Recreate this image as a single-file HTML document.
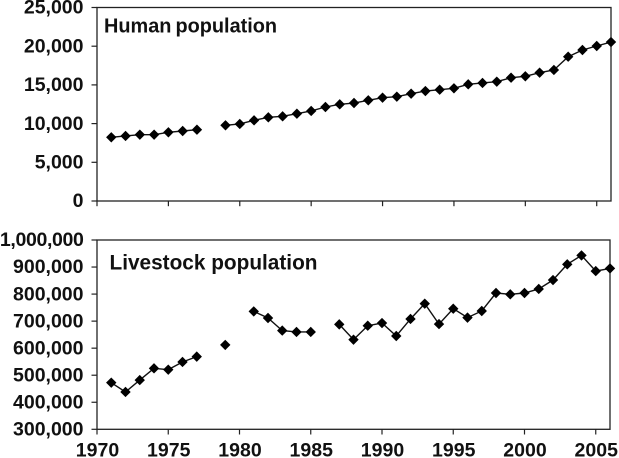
<!DOCTYPE html>
<html lang="en">
<head>
<meta charset="utf-8">
<title>Human and livestock population</title>
<style>
  html, body { margin: 0; padding: 0; background: #fff; }
  #chart { display: block; width: 619px; height: 458px; filter: blur(0.35px); }
  text { font-family: "Liberation Sans", Arial, sans-serif; font-weight: bold; fill: #111; }
</style>
</head>
<body>
<svg id="chart" xmlns="http://www.w3.org/2000/svg" width="619" height="458" viewBox="0 0 619 458">
  <g id="human-panel"></g>
  <g id="livestock-panel"></g>
</svg>
<script>
var years = [1971,1972,1973,1974,1975,1976,1977,1978,1979,1980,1981,1982,1983,1984,1985,1986,1987,1988,1989,1990,1991,1992,1993,1994,1995,1996,1997,1998,1999,2000,2001,2002,2003,2004,2005,2006];
var humanValues = [8230,8400,8570,8570,8875,9045,9210,null,9780,9950,10420,10810,10940,11280,11630,12145,12490,12660,13010,13350,13480,13870,14210,14380,14560,15070,15250,15420,15930,16110,16580,16930,18640,19510,20025,20540];
var livestockValues = [472500,438000,482000,525500,520600,549000,568700,null,612000,null,736000,711600,665000,660000,660000,null,688000,631500,683000,693000,645000,708000,764600,689000,746000,713000,737500,804000,799000,804000,819000,852000,910000,943000,885000,895000];
var humanTicks = [0,5000,10000,15000,20000,25000];
var livestockTicks = [300000,400000,500000,600000,700000,800000,900000,1000000];
var xTicks = [1970,1975,1980,1985,1990,1995,2000,2005];
var SVGNS = 'http://www.w3.org/2000/svg';

function make(parent, tag, attrs) {
  var el = document.createElementNS(SVGNS, tag);
  for (var k in attrs) { el.setAttribute(k, attrs[k]); }
  parent.appendChild(el);
  return el;
}
function fmt(v) { return String(v).replace(/\B(?=(\d{3})+$)/g, ','); }

function drawPanel(parent, box, yMin, yMax, ticks, values, opts) {
  function xs(year) { return box.left + (year - 1970) * (box.right - box.left) / 36; }
  function ys(v) { return box.bottom - (v - yMin) / (yMax - yMin) * (box.bottom - box.top); }

  var frame = make(parent, 'rect', {x: box.left, y: box.top, width: box.right - box.left, height: box.bottom - box.top, fill: 'none', stroke: '#222', 'stroke-width': 1.3});
  
  

  ticks.forEach(function (t) {
    var y = ys(t);
    var tick = make(parent, 'line', {x1: box.left - 5.5, x2: box.left, y1: y, y2: y, stroke: '#222', 'stroke-width': 1.2});
    
    
    var label = make(parent, 'text', {x: 83.5, y: y + 6.2, 'text-anchor': 'end', 'font-size': 19.5});
    if (t >= 1000000) { label.setAttribute('letter-spacing', '-0.35'); }
    
    
    label.textContent = fmt(t);
  });

  xTicks.forEach(function (t) {
    var x = xs(t);
    var tick = make(parent, 'line', {x1: x, x2: x, y1: box.bottom, y2: box.bottom + 5.2, stroke: '#222', 'stroke-width': 1.2});
    
    
    if (opts.showXLabels) {
      var label = make(parent, 'text', {x: x + 0.5, y: box.bottom + 27, 'text-anchor': 'middle', 'font-size': 19.5});
      
      
      label.textContent = String(t);
    }
  });

  var run = [];
  function flush() {
    if (run.length > 1) {
      var segment = make(parent, 'polyline', {points: run.join(' '), fill: 'none', stroke: '#111', 'stroke-width': 1.4});
      
      
    }
    run = [];
  }
  values.forEach(function (v, i) {
    if (v === null) { flush(); return; }
    run.push(xs(years[i]) + ',' + ys(v));
  });
  flush();

  values.forEach(function (v, i) {
    if (v === null) { return; }
    var x = xs(years[i]), y = ys(v), r = 5.2;
    var marker = make(parent, 'polygon', {points: (x - r) + ',' + y + ' ' + x + ',' + (y - r) + ' ' + (x + r) + ',' + y + ' ' + x + ',' + (y + r), fill: '#000'});
    
    
  });

  var heading = make(parent, 'text', {x: opts.titleX, y: opts.titleY, 'font-size': opts.titleSize, 'word-spacing': opts.titleWordSpacing});
  
  
  heading.textContent = opts.title;
}

drawPanel(document.getElementById('human-panel'), {left: 97, right: 611, top: 7.5, bottom: 201}, 0, 25000, humanTicks, humanValues, {title: 'Human population', titleX: 104, titleY: 32.5, titleSize: 19.9, titleWordSpacing: -1.5, showXLabels: false});
drawPanel(document.getElementById('livestock-panel'), {left: 97, right: 610, top: 240, bottom: 429.3}, 300000, 1000000, livestockTicks, livestockValues, {title: 'Livestock population', titleX: 109.5, titleY: 269.5, titleSize: 20.8, titleWordSpacing: 0, showXLabels: true});
</script>
</body>
</html>
